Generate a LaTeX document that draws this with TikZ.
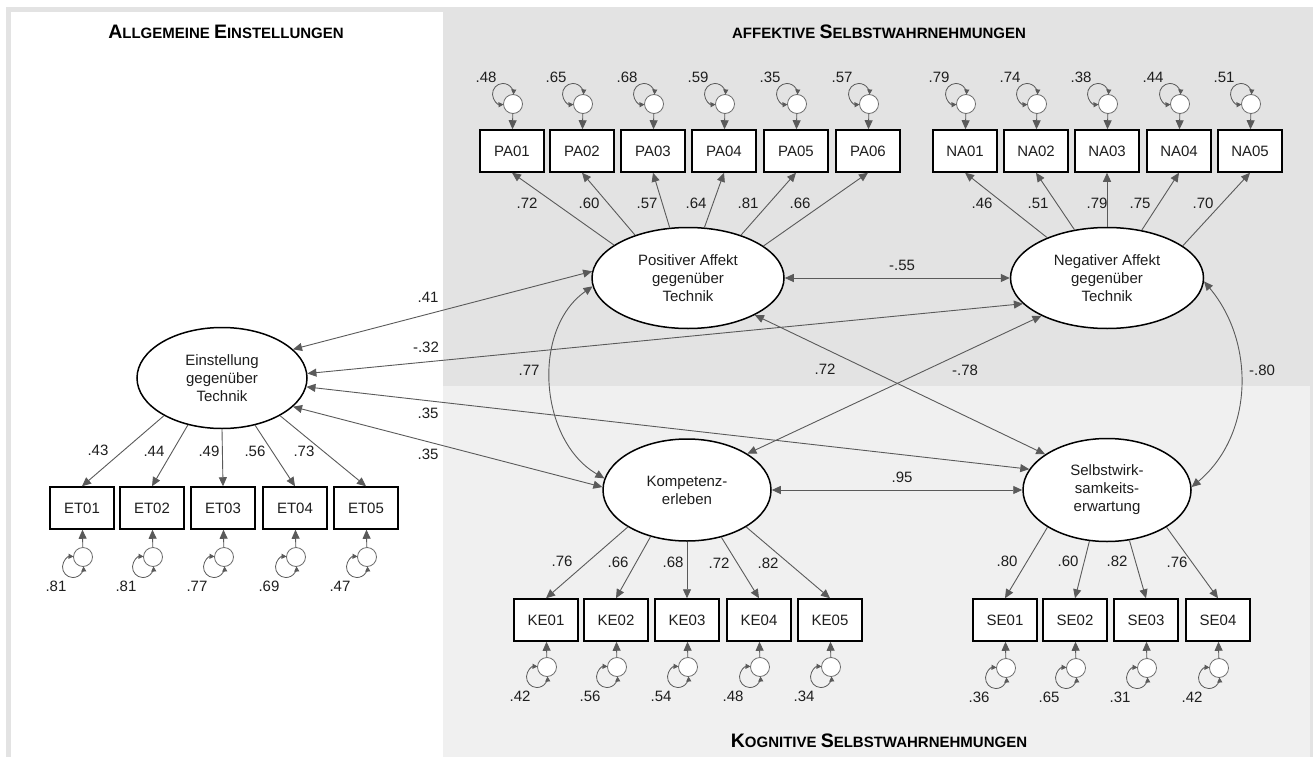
\documentclass[tikz,border=0pt]{standalone}
\usepackage{fontspec}
\setmainfont{Liberation Sans}
\usetikzlibrary{arrows.meta,shapes.geometric}
\definecolor{framegray}{HTML}{E3E3E3}
\definecolor{cogbg}{HTML}{F0F0F0}
\definecolor{linegray}{HTML}{5A5A5A}
\definecolor{errgray}{HTML}{6E6E6E}
\definecolor{textc}{HTML}{1E1E1E}
\newcommand\BigCap[1]{{\fontsize{19.5}{20}\selectfont #1}}
\begin{document}
\begin{tikzpicture}[x=1pt,y=1pt,
  conn/.style={draw=linegray, line width=0.9pt, -{Triangle[length=9pt,width=8pt]}},
  dconn/.style={draw=linegray, line width=0.9pt, {Triangle[length=9pt,width=8pt]}-{Triangle[length=9pt,width=8pt]}},
  loopst/.style={draw=linegray, line width=0.8pt, {Triangle[length=5pt,width=5pt]}-{Triangle[length=5pt,width=5pt]}},
  ind/.style={draw=black, line width=1.5pt, fill=white, minimum width=64pt, minimum height=42pt, inner sep=0pt, font=\fontsize{15}{18}\selectfont, text=textc},
  lat/.style={ellipse, draw=black, line width=1.5pt, fill=white, inner sep=0pt, align=center, font=\fontsize{15}{18}\selectfont, text=textc},
  err/.style={circle, draw=errgray, line width=0.8pt, fill=white, minimum size=19pt, inner sep=0pt},
  num/.style={font=\fontsize{15}{18}\selectfont, text=textc, inner sep=0pt},
  ttl/.style={font=\bfseries\fontsize{15}{18}\selectfont, text=black, inner sep=0pt, anchor=base}
]
\useasboundingbox (0,0) rectangle (1313,-757);
% panels
\fill[white] (0,0) rectangle (1313,-757);
\fill[framegray] (6,-7) rectangle (1313,-757);
\fill[white] (11,-12) rectangle (443,-757);
\fill[cogbg] (443,-386) rectangle (1310,-757);

% titles
\node[ttl] (tA) at (226,-39) {\BigCap{A}LLGEMEINE \BigCap{E}INSTELLUNGEN};
\node[ttl] (tB) at (879,-39) {AFFEKTIVE \BigCap{S}ELBSTWAHRNEHMUNGEN};
\node[ttl] (tC) at (879,-747) {\BigCap{K}OGNITIVE \BigCap{S}ELBSTWAHRNEHMUNGEN};

% latent variables
\node[lat, minimum width=170pt, minimum height=101pt] (E) at (222,-378) {Einstellung\\gegenüber\\Technik};
\node[lat, minimum width=192pt, minimum height=101pt] (PA) at (688,-278) {Positiver Affekt\\gegenüber\\Technik};
\node[lat, minimum width=193pt, minimum height=101pt] (NA) at (1107,-278) {Negativer Affekt\\gegenüber\\Technik};
\node[lat, minimum width=168pt, minimum height=102pt] (KE) at (687,-490) {Kompetenz-\\erleben};
\node[lat, minimum width=168pt, minimum height=103pt] (SE) at (1107,-490) {Selbstwirk-\\samkeits-\\erwartung};

% top indicators
\foreach \n/\x/\v in {PA01/512/.48, PA02/582/.65, PA03/653/.68, PA04/724/.59, PA05/796/.35, PA06/868/.57,
                      NA01/965/.79, NA02/1036/.74, NA03/1107/.38, NA04/1179/.44, NA05/1250/.51}{
  \node[ind] (\n) at (\x,-151) {\n};
  \node[err] (e\n) at (\x+1,-104) {};
  \draw[conn] (e\n) -- (\n);
  \draw[loopst] ([shift={(-9.48,-0.48)}]e\n.center) arc[start angle=272.8, end angle=-2.8, radius=10.5];
  \node[num] (v\n) at (\x-26,-77) {\v};
}

% bottom indicators
\foreach \n/\x/\y/\c/\v in {ET01/82/-508/-557/.81, ET02/152/-508/-557/.81, ET03/223/-508/-557/.77, ET04/295/-508/-557/.69, ET05/366/-508/-557/.47,
                            KE01/546/-620/-667/.42, KE02/616/-620/-667/.56, KE03/687/-620/-667/.54, KE04/759/-620/-667/.48, KE05/830/-620/-667/.34,
                            SE01/1005/-620/-668/.36, SE02/1075/-620/-668/.65, SE03/1146/-620/-668/.31, SE04/1218/-620/-668/.42}{
  \node[ind] (\n) at (\x,\y) {\n};
  \node[err] (e\n) at (\x+1,\c) {};
  \draw[conn] (e\n) -- (\n);
  \draw[loopst] ([shift={(-9.48,0.48)}]e\n.center) arc[start angle=87.2, end angle=362.8, radius=10.5];
  \node[num] (v\n) at (\x-26,\c-29) {\v};
}

% loadings
\foreach \a/\t in {156/PA01,141/PA02,110/PA03,72/PA04,39/PA05,23/PA06}
  \draw[conn] (PA.\a) -- (\t.south);
\foreach \a/\t in {146/NA01,124/NA02,90/NA03,54/NA04,23/NA05}
  \draw[conn] (NA.\a) -- (\t.south);
\foreach \a/\t in {213/ET01,234/ET02,270/ET03,305/ET04,327/ET05}
  \draw[conn] (E.\a) -- (\t.north);
\foreach \a/\t in {212/KE01,232/KE02,270/KE03,306/KE04,328/KE05}
  \draw[conn] (KE.\a) -- (\t.north);
\foreach \a/\t in {212/SE01,251/SE02,294/SE03,328/SE04}
  \draw[conn] (SE.\a) -- (\t.north);

% loading labels
\foreach \x/\y/\v [count=\i] in {527/203/.72, 589/203/.60, 647/203/.57, 696/203/.64, 748/203/.81, 800/203/.66,
                     982/203/.46, 1038/203/.51, 1097/203/.79, 1140/203/.75, 1203/203/.70,
                     98/450/.43, 154/451/.44, 209/451/.49, 255/451/.56, 304/451/.73,
                     562/561/.76, 618/562/.66, 673/562/.68, 719/563/.72, 768/563/.82,
                     1007/561/.80, 1068/561/.60, 1117/561/.82, 1177/562/.76}
  \node[num] (ld\i) at (\x,-\y) {\v};

% correlations
\draw[dconn] (E.22) -- (PA.176);
\draw[dconn] (E.3) -- (NA.197);
\draw[dconn] (E.354) -- (SE.165);
\draw[dconn] (E.338) -- (KE.178);
\draw[dconn] (PA.east) -- (NA.west);
\draw[dconn] (KE.east) -- (SE.west);
\draw[dconn] (PA.331) -- (SE.150);
\draw[dconn] (KE.31) -- (NA.210);
\draw[dconn] (PA.185) to[out=215, in=150] (KE.172);
\draw[dconn] (NA.358) to[out=-50, in=40] (SE.2);

% correlation labels
\node[num] (c1) at (428,-297) {.41};
\node[num] (c2) at (426,-347) {-.32};
\node[num] (c3) at (428,-413) {.35};
\node[num] (c4) at (428,-454) {.35};
\node[num] (c5) at (902,-265) {-.55};
\node[num] (c6) at (902,-477) {.95};
\node[num] (c7) at (529,-370) {.77};
\node[num] (c8) at (825,-369) {.72};
\node[num] (c9) at (965,-370) {-.78};
\node[num] (c10) at (1262,-370) {-.80};
\end{tikzpicture}
\end{document}
